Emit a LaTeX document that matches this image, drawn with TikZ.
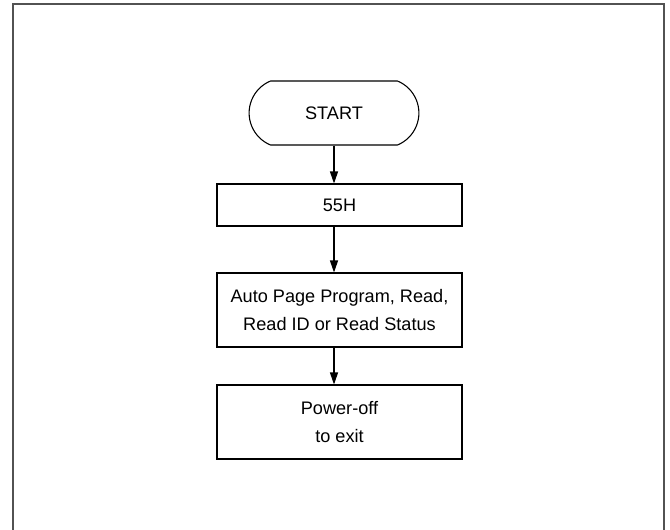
\documentclass[tikz,border=0pt]{standalone}
\usepackage{fontspec}
\setmainfont{Liberation Sans}
\usetikzlibrary{arrows.meta,shapes.misc}
\begin{document}
\begin{tikzpicture}
  [x=0.75pt,y=-0.75pt,every node/.style={draw,line width=0.8pt,align=center,
   font=\fontsize{13.6}{20.5}\selectfont}]
  \tikzstyle{box} = [shape=rectangle,minimum width=183.75pt]
  \tikzstyle{terminal} = [shape=rounded rectangle,rounded rectangle arc length=135,
   minimum width=134pt,minimum height=48pt]
  \tikzstyle{arr} = [line width=0.8pt,-{Triangle[length=9pt,width=6pt]}]
  \useasboundingbox (0,0) rectangle (670,529);
  \draw[line width=1.5pt,black!68] (12.5,540) -- (12.5,4) -- (664,4) -- (664,540);
  \node[terminal] (start) at (334,113) {START};
  \node[box,minimum height=31.5pt] (b55) at (339.5,205) {55H};
  \node[box,minimum height=55.5pt] (bread) at (339.5,310) {Auto Page Program, Read,\\Read ID or Read Status};
  \node[box,minimum height=55.5pt] (boff) at (339.5,422) {Power-off\\to exit};
  \foreach \source /\dest in {start/b55,b55/bread,bread/boff}
   \draw[arr] (\source.south -| start) -- (\dest.north -| start);
\end{tikzpicture}
\end{document}
